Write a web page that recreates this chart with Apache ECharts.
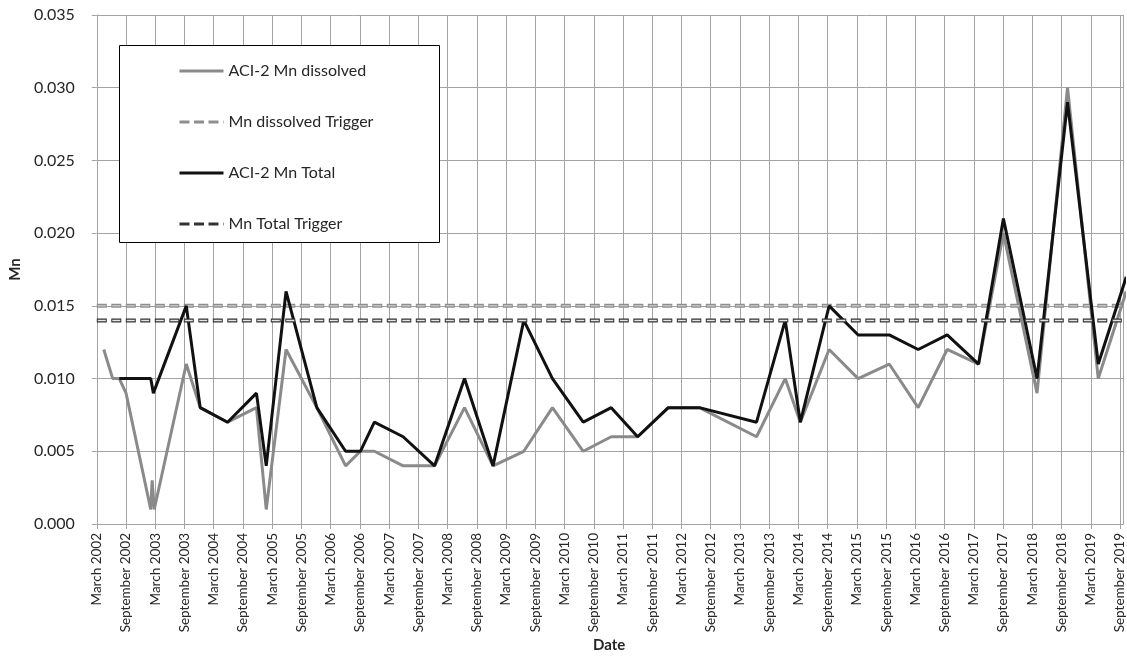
<!DOCTYPE html>
<html>
<head>
<meta charset="utf-8">
<script src="https://cdn.jsdelivr.net/npm/echarts@6/dist/echarts.min.js"></script>
<style>
  html, body { margin: 0; padding: 0; background: #ffffff; }
  #chart { width: 1127px; height: 656px; }
</style>
</head>
<body>
<div id="chart"></div>
<script>
// ACI-2 manganese sampling results (sample date, concentration)
const dissolvedDates = [
  '2002-04-14', '2002-06-09', '2002-07-20', '2002-09-01', '2003-02-03', '2003-02-11', '2003-02-23',
  '2003-09-12', '2003-12-08', '2004-05-27', '2004-11-24', '2005-01-25', '2005-05-27', '2005-12-06',
  '2006-06-03', '2006-09-04', '2006-11-30', '2007-05-28', '2007-12-11', '2008-06-15', '2008-12-11',
  '2009-06-20', '2009-12-17', '2010-06-26', '2010-12-19', '2011-06-01', '2011-12-10', '2012-06-21',
  '2013-06-13', '2013-12-10', '2014-03-13', '2014-09-10', '2015-03-09', '2015-09-20', '2016-03-19',
  '2016-09-17', '2017-03-31', '2017-09-03', '2018-03-31', '2018-10-08', '2019-04-17', '2019-10-10'
];
const dissolvedValues = [
  0.012, 0.010, 0.010, 0.009, 0.001, 0.003, 0.001,
  0.011, 0.008, 0.007, 0.008, 0.001, 0.012, 0.008,
  0.004, 0.005, 0.005, 0.004, 0.004, 0.008, 0.004,
  0.005, 0.008, 0.005, 0.006, 0.006, 0.008, 0.008,
  0.006, 0.010, 0.007, 0.012, 0.010, 0.011, 0.008,
  0.012, 0.011, 0.020, 0.009, 0.030, 0.010, 0.016
];
const totalDates = [
  '2002-07-20', '2003-02-03', '2003-02-18',
  '2003-09-12', '2003-12-08', '2004-05-27', '2004-11-24', '2005-01-25', '2005-05-27', '2005-12-06',
  '2006-06-03', '2006-09-04', '2006-11-30', '2007-05-28', '2007-12-11', '2008-06-15', '2008-12-11',
  '2009-06-20', '2009-12-17', '2010-06-26', '2010-12-19', '2011-06-01', '2011-12-10', '2012-06-21',
  '2013-06-13', '2013-12-10', '2014-03-13', '2014-09-10', '2015-03-09', '2015-09-20', '2016-03-19',
  '2016-09-17', '2017-03-31', '2017-09-03', '2018-03-31', '2018-10-08', '2019-04-17', '2019-10-10'
];
const totalValues = [
  0.010, 0.010, 0.009,
  0.015, 0.008, 0.007, 0.009, 0.004, 0.016, 0.008,
  0.005, 0.005, 0.007, 0.006, 0.004, 0.010, 0.004,
  0.014, 0.010, 0.007, 0.008, 0.006, 0.008, 0.008,
  0.007, 0.014, 0.007, 0.015, 0.013, 0.013, 0.012,
  0.013, 0.011, 0.021, 0.010, 0.029, 0.011, 0.017
];
const dissolvedTrigger = 0.015;
const totalTrigger = 0.014;

const seriesNames = ['ACI-2 Mn dissolved', 'Mn dissolved Trigger', 'ACI-2 Mn Total', 'Mn Total Trigger'];
const monthNames = ['January', 'February', 'March', 'April', 'May', 'June', 'July',
  'August', 'September', 'October', 'November', 'December'];

// The date axis is measured in months counted from 1 March 2002;
// ticks every 6 months fall on March and September. The visible window
// stops a few days into September 2019, cutting the last samples.
const START_YEAR = 2002;
const START_MONTH = 3;
const AXIS_MIN = 0;
const AXIS_MAX = 210.67;
const TICK_STEP = 6;

function monthsFromStart(s) {
  const [y, m, d] = s.split('-').map(Number);
  const daysInMonth = new Date(Date.UTC(y, m, 0)).getUTCDate();
  return (y - START_YEAR) * 12 + (m - START_MONTH) + (d - 1) / daysInMonth;
}
function monthLabel(v) {
  const k = Math.round(v) + START_MONTH - 1;
  return monthNames[k % 12] + ' ' + (START_YEAR + Math.floor(k / 12));
}
function pairs(dates, values) {
  return dates.map((d, i) => [monthsFromStart(d), values[i]]);
}
function flat(v) {
  return [[AXIS_MIN, v], [AXIS_MAX, v]];
}

const FONT = 'Lato, "Open Sans", sans-serif';
const GRID_COLOR = '#a3a3a3';

const chart = echarts.init(document.getElementById('chart'), null, { renderer: 'canvas' });

chart.setOption({
  animation: false,
  backgroundColor: '#ffffff',
  textStyle: { fontFamily: FONT, color: '#262626' },
  grid: { left: 90, top: 15, right: 0, bottom: 132, containLabel: false },
  title: {
    text: 'Date',
    left: 593,
    top: 638,
    padding: 0,
    textStyle: { fontFamily: FONT, fontSize: 15, fontWeight: 'bold', color: '#262626' }
  },
  graphic: [{
    type: 'rect',
    z: 3,
    shape: { x: 119.5, y: 45.5, width: 320, height: 197 },
    style: { fill: '#ffffff', stroke: '#000000', lineWidth: 1 }
  }],
  legend: {
    z: 4,
    orient: 'vertical',
    left: 178,
    top: 63,
    padding: 0,
    itemWidth: 44,
    itemHeight: 14,
    itemGap: 35,
    itemStyle: { opacity: 0 },
    lineStyle: { width: 3 },
    textStyle: { fontFamily: FONT, fontSize: 16, color: '#262626' },
    data: seriesNames
  },
  xAxis: {
    type: 'value',
    min: AXIS_MIN,
    max: AXIS_MAX,
    interval: TICK_STEP,
    axisLine: { show: true, lineStyle: { color: GRID_COLOR, width: 1 } },
    axisTick: { show: true, length: 5, lineStyle: { color: GRID_COLOR } },
    splitLine: { show: true, lineStyle: { color: GRID_COLOR, width: 1 } },
    axisLabel: {
      rotate: 90,
      margin: 9,
      fontSize: 13.5,
      fontFamily: FONT,
      color: '#262626',
      showMaxLabel: false,
      formatter: monthLabel
    }
  },
  yAxis: {
    type: 'value',
    min: 0,
    max: 0.035,
    interval: 0.005,
    name: 'Mn',
    nameLocation: 'middle',
    nameRotate: 90,
    nameGap: 73,
    nameTextStyle: { fontFamily: FONT, fontSize: 15, fontWeight: 'bold', color: '#262626' },
    axisLine: { show: true, lineStyle: { color: GRID_COLOR, width: 1 } },
    axisTick: { show: true, length: 5, lineStyle: { color: GRID_COLOR } },
    splitLine: { show: true, lineStyle: { color: GRID_COLOR, width: 1 } },
    axisLabel: {
      margin: 22,
      fontSize: 16,
      fontFamily: FONT,
      color: '#262626',
      formatter: v => v.toFixed(3)
    }
  },
  series: [
    {
      name: seriesNames[0],
      type: 'line',
      symbol: 'none',
      z: 2,
      lineStyle: { color: '#8a8a8a', width: 3 },
      itemStyle: { color: '#8a8a8a' },
      data: pairs(dissolvedDates, dissolvedValues)
    },
    {
      name: seriesNames[1],
      type: 'line',
      symbol: 'none',
      z: 2,
      lineStyle: { color: '#8e8e8e', width: 4, type: [10, 4.5] },
      itemStyle: { color: '#8e8e8e' },
      data: flat(dissolvedTrigger)
    },
    {
      name: 'dissolved trigger core',
      type: 'line',
      symbol: 'none',
      silent: true,
      z: 2,
      lineStyle: { color: '#c2c2c2', width: 1.5, type: [8, 6.5], dashOffset: -1 },
      data: flat(dissolvedTrigger)
    },
    {
      name: seriesNames[2],
      type: 'line',
      symbol: 'none',
      z: 2,
      lineStyle: { color: '#111111', width: 3 },
      itemStyle: { color: '#111111' },
      data: pairs(totalDates, totalValues)
    },
    {
      name: seriesNames[3],
      type: 'line',
      symbol: 'none',
      z: 2,
      lineStyle: { color: '#333333', width: 4, type: [10, 4.5] },
      itemStyle: { color: '#333333' },
      data: flat(totalTrigger)
    },
    {
      name: 'total trigger core',
      type: 'line',
      symbol: 'none',
      silent: true,
      z: 2,
      lineStyle: { color: '#e4e4e4', width: 1.5, type: [8, 6.5], dashOffset: -1 },
      data: flat(totalTrigger)
    }
  ]
});
</script>
</body>
</html>
